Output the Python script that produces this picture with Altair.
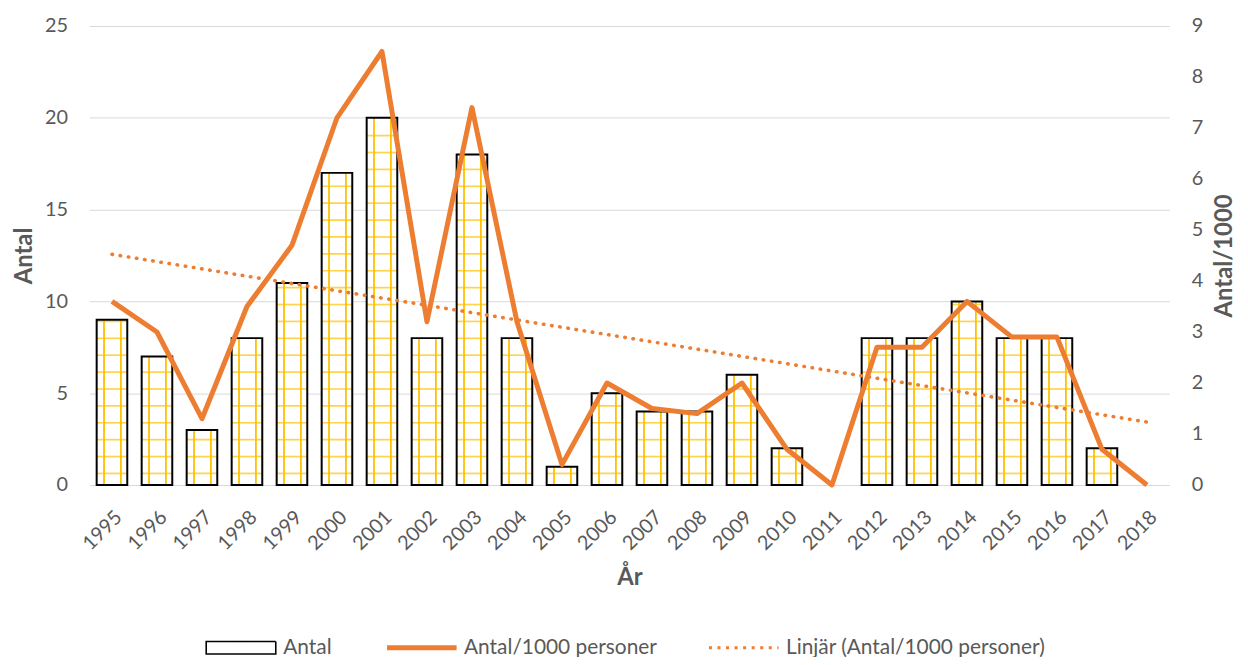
import altair as alt
import pandas as pd

years = [str(y) for y in range(1995, 2019)]
antal = [9, 7, 3, 8, 11, 17, 20, 8, 18, 8, 1, 5, 4, 4, 6, 2, 0, 8, 8, 10, 8, 8, 2, 0]
per1000 = [3.6, 3.0, 1.3, 3.5, 4.7, 7.2, 8.5, 3.2, 7.4, 3.2, 0.4, 2.0, 1.5, 1.4,
           2.0, 0.7, 0.0, 2.7, 2.7, 3.6, 2.9, 2.9, 0.7, 0.0]
series_names = ["Antal", "Antal/1000 personer", "Linjär (Antal/1000 personer)"]

df = pd.DataFrame({"year": years, "antal": antal, "per1000": per1000,
                   "series": series_names[1]})

FONT = "Lato"
GREY = "#595959"
ORANGE = "#ED7D31"
YELLOW = "#FFC000"

x_scale = alt.Scale(paddingInner=0.32, paddingOuter=0.16)
x_axis = alt.Axis(title="År", labelAngle=-45, labelFontSize=20, labelPadding=22,
                  titleFontSize=24, titlePadding=12, ticks=False,
                  domainColor="#D9D9D9", domainWidth=1)
yl_scale = alt.Scale(domain=[0, 25])
yl_axis = alt.Axis(title="Antal", values=[0, 5, 10, 15, 20, 25], grid=True,
                   gridColor="#D9D9D9", gridWidth=1, domain=False, ticks=False,
                   labelFontSize=20, labelPadding=22, titleFontSize=24,
                   titlePadding=8)
yr_scale = alt.Scale(domain=[0, 9])
yr_axis = alt.Axis(title="Antal/1000", orient="right", values=list(range(10)),
                   grid=False, domain=False, ticks=False, labelFontSize=20,
                   labelPadding=22, titleFontSize=24, titlePadding=10,
                   titleAngle=270, titleBaseline="top")

X = alt.X("year:O", scale=x_scale, axis=x_axis, title="År")

base = alt.Chart(df)

bars_fill = base.mark_bar(color="white").encode(
    x=X,
    y=alt.Y("antal:Q", scale=yl_scale, axis=yl_axis, title="Antal"),
)

hlines = base.transform_calculate(
    hl="sequence(0.63, datum.antal - 0.05, 0.92)"
).transform_flatten(["hl"]).mark_tick(
    color=YELLOW, thickness=1.7, size=30, orient="horizontal"
).encode(
    x=X,
    y=alt.Y("hl:Q", scale=yl_scale, axis=yl_axis, title="Antal"),
)

vl1 = base.transform_filter("datum.antal > 0").mark_rule(
    color=YELLOW, strokeWidth=1.8, xOffset=-8
).encode(
    x=X,
    y=alt.Y("antal:Q", scale=yl_scale, axis=yl_axis, title="Antal"),
    y2=alt.datum(0),
)
vl2 = base.transform_filter("datum.antal > 0").mark_rule(
    color=YELLOW, strokeWidth=1.8, xOffset=9
).encode(
    x=X,
    y=alt.Y("antal:Q", scale=yl_scale, axis=yl_axis, title="Antal"),
    y2=alt.datum(0),
)

bars_outline = base.transform_filter("datum.antal > 0").mark_bar(
    fill="transparent", stroke="black", strokeWidth=2
).encode(
    x=X,
    y=alt.Y("antal:Q", scale=yl_scale, axis=yl_axis, title="Antal"),
)

left = alt.layer(bars_fill, hlines, vl1, vl2, bars_outline)

trend = base.transform_calculate(
    yrnum="toNumber(datum.year)"
).transform_regression("yrnum", "per1000").transform_calculate(
    year="toString(datum.yrnum)"
).mark_line(color=ORANGE, strokeWidth=3.6, strokeDash=[0.5, 7.8],
            strokeCap="round").encode(
    x=X,
    y=alt.Y("per1000:Q", scale=yr_scale, axis=yr_axis, title="Antal/1000"),
)

line = base.mark_line(strokeWidth=5, strokeJoin="round").encode(
    x=X,
    y=alt.Y("per1000:Q", scale=yr_scale, axis=yr_axis, title="Antal/1000"),
    color=alt.Color("series:N",
                    scale=alt.Scale(domain=series_names,
                                    range=["#000000", ORANGE, ORANGE]),
                    legend=alt.Legend(
                        title=None, orient="none", direction="horizontal",
                        legendX=142, legendY=615, labelFont=FONT,
                        labelFontSize=21, labelColor=GREY, labelLimit=500,
                        labelOffset=32, columnPadding=45, symbolSize=4900,
                        symbolType={"expr": "datum.value === 'Antal' ? 'M-1,-0.18H1V0.18H-1Z' : 'stroke'"},
                        symbolDash={"expr": "indexof(datum.value, 'Linj') === 0 ? [3, 5.6] : [1, 0]"},
                        symbolStrokeWidth={"expr": "datum.value === 'Antal' ? 1.6 : (datum.value === 'Antal/1000 personer' ? 5 : 3)"},
                    )),
)

right = alt.layer(trend, line)

chart = alt.layer(left, right).resolve_scale(y="independent").properties(
    width=1087, height=462, autosize="none",
    padding={"left": 82, "top": 16, "right": 71, "bottom": 171},
).configure_view(stroke=None).configure_axis(
    labelFont=FONT, titleFont=FONT, labelColor=GREY, titleColor=GREY,
    titleFontWeight="bold",
)

chart.save("out.html", embed_options={"renderer": "svg", "actions": False})
